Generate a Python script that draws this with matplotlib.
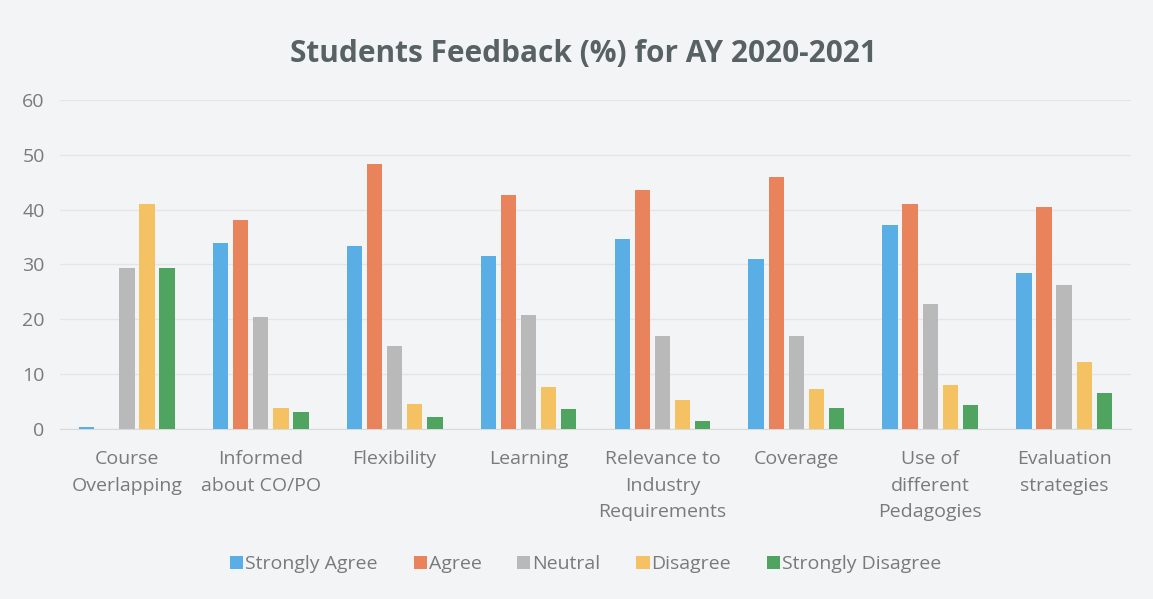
import matplotlib
matplotlib.use("Agg")
import matplotlib.pyplot as plt
import numpy as np

categories = ["Course\nOverlapping", "Informed\nabout CO/PO", "Flexibility", "Learning",
              "Relevance to\nIndustry\nRequirements", "Coverage",
              "Use of\ndifferent\nPedagogies", "Evaluation\nstrategies"]
series_names = ["Strongly Agree", "Agree", "Neutral", "Disagree", "Strongly Disagree"]
strongly_agree = [0.4, 33.9, 33.3, 31.5, 34.7, 31.0, 37.2, 28.4]
agree = [0.0, 38.2, 48.3, 42.7, 43.6, 46.0, 41.0, 40.5]
neutral = [29.4, 20.5, 15.2, 20.8, 17.0, 16.9, 22.7, 26.3]
disagree = [41.0, 3.9, 4.6, 7.6, 5.2, 7.2, 8.0, 12.2]
strongly_disagree = [29.4, 3.0, 2.2, 3.7, 1.5, 3.9, 4.3, 6.6]
yticks = [0, 10, 20, 30, 40, 50, 60]

colors = ["#5aaee6", "#e9835c", "#b9b9b9", "#f4c263", "#4fa55f"]
bg = "#f3f4f6"
text_col = "#7a7a7a"

plt.rcParams['font.family'] = ['Open Sans', 'DejaVu Sans']
fig = plt.figure(figsize=(11.53, 5.99), dpi=100, facecolor=bg)
ax = fig.add_axes([0.052, 0.284, 0.929, 0.549], facecolor=bg)

x = np.arange(len(categories))
slot = 0.15
width = 0.115
data = [strongly_agree, agree, neutral, disagree, strongly_disagree]
for i, (vals, name, c) in enumerate(zip(data, series_names, colors)):
    ax.bar(x + (i - 2) * slot, vals, width=width, color=c, label=name, zorder=3)

ax.set_xlim(-0.5, len(categories) - 0.5)
ax.set_ylim(0, 60)
ax.set_yticks(yticks)
ax.set_xticks(x)
ax.set_xticklabels(categories, fontsize=14, color=text_col, linespacing=1.63)
ax.tick_params(axis='y', labelsize=14, labelcolor=text_col, length=0, pad=11)
ax.tick_params(axis='x', length=0, pad=15)
ax.grid(axis='y', color="#e4e5e8", linewidth=1, zorder=0)
for s in ["top", "right", "left"]:
    ax.spines[s].set_visible(False)
ax.spines["bottom"].set_color("#d9d9d9")

fig.text(0.506, 1 - 62 / 599, "Students Feedback (%) for AY 2020-2021", ha="center", va="baseline",
         fontsize=21.4, fontweight="bold", color="#586262")

leg = fig.legend(loc="center", bbox_to_anchor=(0.508, 1 - 564 / 599), ncol=5, frameon=False,
                 fontsize=14, handlelength=0.67, handleheight=0.67, handletextpad=0.1,
                 columnspacing=1.85)
for t in leg.get_texts():
    t.set_color(text_col)

fig.savefig("out.png", dpi=100, facecolor=bg)
